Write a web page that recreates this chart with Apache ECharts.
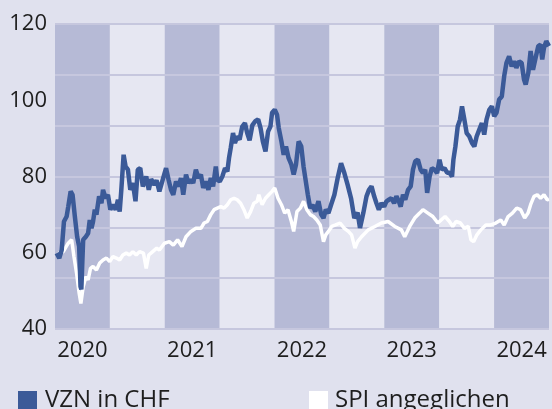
<!DOCTYPE html>
<html>
<head>
<meta charset="utf-8">
<script src="https://cdn.jsdelivr.net/npm/echarts@6/dist/echarts.min.js"></script>
<style>
  html, body { margin: 0; padding: 0; background: #e0e1ee; }
  #chart { width: 552px; height: 409px; }
</style>
</head>
<body>
<div id="chart"></div>
<script>
// x = Monate seit Jan 2020, y = Kurs
const vzn = [
  [0.18, 59.9], [0.47, 58.6], [0.73, 60.7], [0.98, 68.2], [1.27, 69.5], [1.45, 72.1], [1.71, 76.1], [1.92, 75.2],
  [2.17, 69.5], [2.42, 64.2], [2.64, 61.6], [2.79, 51.1], [2.88, 50.4], [2.97, 56.4], [3.08, 63.4], [3.37, 64.2],
  [3.62, 65.1], [3.80, 68.6], [3.99, 66.4], [4.16, 68.2], [4.35, 71.3], [4.53, 70.0], [4.82, 74.8], [5.08, 73.0],
  [5.25, 76.5], [5.54, 74.3], [5.79, 75.2], [6.05, 71.3], [6.34, 72.6], [6.63, 71.3], [6.88, 73.9], [7.07, 70.8],
  [7.25, 76.5], [7.50, 85.7], [7.72, 82.6], [7.97, 81.8], [8.23, 76.5], [8.51, 78.3], [8.80, 73.5], [9.05, 81.8],
  [9.32, 82.2], [9.60, 77.4], [9.97, 80.0], [10.25, 76.5], [10.51, 79.3], [10.87, 77.8], [11.10, 79.0], [11.41, 76.1],
  [11.77, 79.1], [12.14, 82.2], [12.42, 79.1], [12.68, 76.5], [12.93, 75.2], [13.23, 78.7], [13.51, 77.4], [13.77, 79.6],
  [14.02, 75.2], [14.32, 80.5], [14.60, 78.3], [14.86, 79.1], [15.11, 78.3], [15.40, 81.8], [15.68, 79.6], [15.95, 80.5],
  [16.20, 77.0], [16.49, 78.7], [16.77, 76.5], [17.03, 79.6], [17.28, 77.4], [17.58, 82.6], [17.75, 79.1], [18.01, 78.7],
  [18.29, 80.0], [18.59, 82.2], [18.84, 81.3], [19.02, 84.8], [19.21, 87.5], [19.46, 91.4], [19.67, 88.8], [19.92, 90.5],
  [20.18, 89.7], [20.47, 93.1], [20.76, 94.0], [21.01, 91.4], [21.27, 89.5], [21.58, 93.5], [21.90, 94.5], [22.21, 95.0],
  [22.47, 92.7], [22.72, 89.2], [23.01, 86.6], [23.29, 91.8], [23.55, 93.1], [23.73, 96.7], [24.02, 97.5], [24.27, 96.2],
  [24.46, 92.7], [24.75, 89.2], [25.00, 85.7], [25.25, 87.9], [25.54, 84.8], [25.84, 83.1], [26.09, 80.5], [26.34, 83.1],
  [26.63, 89.2], [26.92, 87.9], [27.17, 82.6], [27.36, 79.6], [27.64, 75.2], [27.90, 71.7], [28.15, 72.6], [28.45, 70.8],
  [28.80, 73.5], [29.10, 70.0], [29.35, 69.1], [29.60, 71.3], [29.89, 70.4], [30.18, 72.6], [30.54, 75.2], [30.90, 79.6],
  [31.27, 83.5], [31.63, 80.9], [31.99, 77.8], [32.36, 74.3], [32.72, 69.1], [33.08, 70.5], [33.34, 66.5], [33.70, 70.4],
  [34.05, 74.8], [34.32, 76.5], [34.60, 77.4], [34.89, 74.8], [35.14, 73.0], [35.40, 71.3], [35.68, 73.0], [35.98, 72.1],
  [36.23, 73.5], [36.49, 73.9], [36.77, 74.3], [37.07, 73.0], [37.32, 74.8], [37.58, 73.5], [37.79, 72.1], [38.04, 75.2],
  [38.29, 73.9], [38.59, 76.5], [38.88, 77.4], [39.13, 81.8], [39.38, 84.0], [39.67, 84.4], [39.97, 81.8], [40.22, 80.9],
  [40.47, 81.8], [40.68, 75.7], [40.95, 80.0], [41.20, 82.2], [41.49, 81.8], [41.77, 80.9], [42.03, 84.4], [42.28, 81.8],
  [42.58, 82.2], [42.86, 81.0], [43.12, 81.0], [43.40, 80.0], [43.55, 84.4], [43.77, 87.9], [44.02, 93.1], [44.27, 94.9],
  [44.49, 98.4], [44.75, 94.9], [45.00, 91.4], [45.29, 90.5], [45.58, 88.8], [45.84, 87.9], [46.09, 90.5], [46.38, 92.3],
  [46.66, 94.0], [46.92, 91.0], [47.17, 94.9], [47.47, 97.5], [47.75, 98.4], [48.01, 95.8], [48.26, 96.7], [48.55, 100.2],
  [48.84, 101.0], [49.10, 106.3], [49.35, 109.8], [49.64, 111.5], [49.92, 108.9], [50.18, 110.2], [50.43, 108.5], [50.73, 110.2],
  [51.01, 109.8], [51.27, 105.4], [51.45, 104.1], [51.74, 107.2], [51.99, 112.9], [52.25, 108.0], [52.53, 111.1], [52.83, 114.2],
  [53.08, 114.6], [53.26, 110.7], [53.45, 113.7], [53.70, 115.5], [54.00, 114.2]
];

const spi = [
  [0.22, 59.4], [0.54, 60.0], [0.90, 60.3], [1.45, 62.5], [1.82, 63.4], [2.07, 59.0], [2.36, 54.6], [2.64, 49.4],
  [2.83, 46.7], [3.08, 51.1], [3.37, 53.7], [3.62, 52.9], [3.88, 55.9], [4.16, 56.4], [4.53, 55.5], [4.89, 57.3],
  [5.25, 58.1], [5.62, 58.6], [5.98, 57.7], [6.34, 59.0], [6.71, 58.6], [7.07, 58.1], [7.42, 59.4], [7.79, 59.9],
  [8.15, 59.4], [8.51, 60.3], [8.88, 59.4], [9.24, 60.3], [9.67, 59.9], [9.97, 55.9], [10.25, 59.4], [10.68, 60.3],
  [11.12, 61.2], [11.41, 60.7], [11.96, 62.5], [12.50, 62.9], [12.93, 62.0], [13.40, 63.4], [13.88, 61.6], [14.32, 64.2],
  [14.86, 65.6], [15.40, 66.4], [15.95, 66.4], [16.30, 67.8], [16.66, 68.2], [17.03, 70.0], [17.39, 71.3], [17.75, 71.7],
  [18.12, 72.1], [18.48, 71.7], [18.84, 72.6], [19.21, 73.9], [19.57, 74.3], [19.92, 73.9], [20.29, 73.0], [20.65, 71.3],
  [21.01, 69.1], [21.38, 70.8], [21.74, 73.0], [22.10, 73.5], [22.28, 75.2], [22.64, 72.6], [23.01, 74.3], [23.37, 75.2],
  [23.73, 76.1], [24.02, 77.0], [24.38, 74.3], [24.75, 72.6], [25.11, 70.4], [25.47, 71.3], [25.84, 68.2], [26.09, 65.6],
  [26.45, 70.8], [26.82, 71.7], [27.17, 73.5], [27.53, 71.3], [27.90, 70.0], [28.26, 69.5], [28.62, 68.6], [28.99, 67.3],
  [29.35, 62.9], [29.60, 64.7], [29.89, 65.6], [30.25, 66.9], [30.68, 67.3], [31.16, 67.8], [31.63, 66.4], [32.07, 65.6],
  [32.42, 64.7], [32.79, 61.2], [33.08, 62.9], [33.51, 64.2], [34.24, 66.0], [34.97, 66.9], [35.68, 67.8], [36.41, 68.2],
  [37.14, 66.9], [37.86, 66.0], [38.23, 64.2], [38.77, 66.9], [39.32, 69.1], [39.86, 70.4], [40.22, 71.3], [40.76, 70.4],
  [41.30, 69.5], [41.85, 67.8], [42.21, 68.6], [42.64, 69.5], [43.12, 68.2], [43.48, 66.9], [43.84, 68.2], [44.32, 67.8],
  [44.75, 66.4], [45.18, 66.9], [45.47, 63.4], [45.76, 62.9], [46.12, 64.7], [46.55, 66.0], [47.10, 67.3], [47.64, 67.3],
  [48.18, 67.8], [48.73, 68.6], [49.10, 67.3], [49.53, 69.5], [50.00, 70.4], [50.47, 71.7], [50.90, 71.3], [51.34, 69.1],
  [51.71, 70.4], [51.99, 72.6], [52.36, 74.8], [52.72, 75.2], [53.08, 74.3], [53.45, 75.2], [53.80, 73.9], [54.00, 74.0]
];

const startYear = 2020;
const yLabels = [40, 60, 80, 100, 120];

const fontFamily = '"Open Sans", "Noto Sans", sans-serif';
const chart = echarts.init(document.getElementById('chart'));

chart.setOption({
  backgroundColor: '#e0e1ee',
  animation: false,
  grid: { left: 55, right: 0, top: 24, bottom: 80 },
  legend: [
    {
      data: ['VZN in CHF'],
      left: 13, top: 383,
      icon: 'rect', itemWidth: 19, itemHeight: 18,
      textStyle: { fontFamily, fontSize: 24, color: '#1e1e1e', padding: [0, 0, 0, 3] }
    },
    {
      data: ['SPI angeglichen'],
      left: 304, top: 383,
      icon: 'rect', itemWidth: 19, itemHeight: 18,
      textStyle: { fontFamily, fontSize: 24, color: '#1e1e1e', padding: [0, 0, 0, 2] }
    }
  ],
  xAxis: {
    type: 'value',
    min: 0,
    max: 54,
    interval: 3,
    z: 0,
    axisLine: { show: false },
    axisTick: { show: false },
    splitLine: { show: false },
    splitArea: { show: true, areaStyle: { color: ['#b6bad6', '#b6bad6', '#e6e7f2', '#e6e7f2'] } },
    axisLabel: {
      fontFamily, fontSize: 22, color: '#1e1e1e', margin: 11,
      formatter: v => (v % 12 === 3 ? String(startYear + (v - 3) / 12) : '')
    }
  },
  yAxis: [
    {
      type: 'value',
      position: 'left',
      min: 40, max: 120, interval: 40 / 3,
      z: 1,
      axisLine: { show: false },
      axisTick: { show: false },
      axisLabel: { show: false },
      splitLine: { show: true, lineStyle: { color: '#c6c7de', width: 2 } }
    },
    {
      type: 'value',
      position: 'left',
      min: 40, max: 120, interval: 20,
      axisLine: { show: false },
      axisTick: { show: false },
      splitLine: { show: false },
      axisLabel: {
        fontFamily, fontSize: 22, color: '#1e1e1e', margin: 8,
        formatter: v => (yLabels.includes(v) ? String(v) : '')
      }
    }
  ],
  series: [
    {
      name: 'SPI angeglichen',
      type: 'line',
      data: spi,
      showSymbol: false,
      itemStyle: { color: '#ffffff' },
      lineStyle: { color: '#ffffff', width: 3.5 },
      z: 3
    },
    {
      name: 'VZN in CHF',
      type: 'line',
      data: vzn,
      showSymbol: false,
      itemStyle: { color: '#3b5a98' },
      lineStyle: { color: '#3b5a98', width: 4.5 },
      z: 4
    }
  ]
});
</script>
</body>
</html>
